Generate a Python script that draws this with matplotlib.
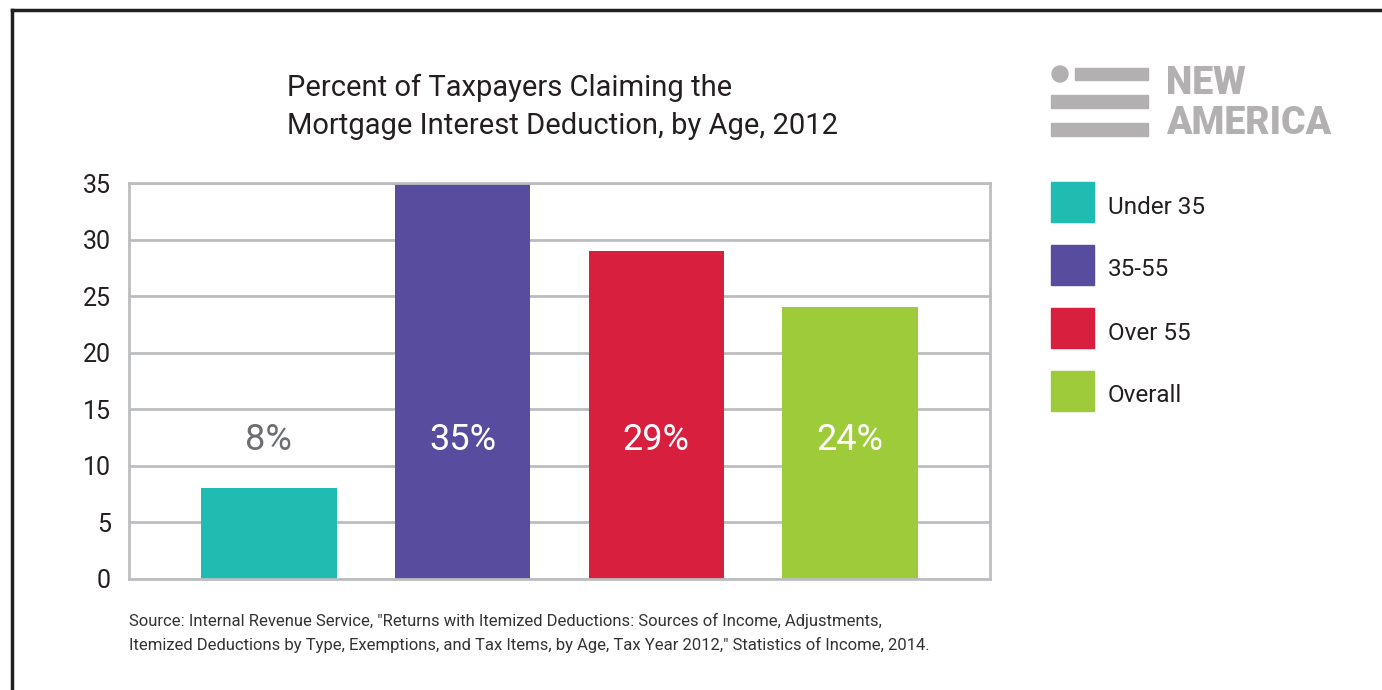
import matplotlib.pyplot as plt
from matplotlib.patches import Rectangle, Ellipse
from matplotlib.lines import Line2D

W, H = 1382, 690

categories = ["Under 35", "35-55", "Over 55", "Overall"]
values = [8, 35, 29, 24]
labels = ["8%", "35%", "29%", "24%"]
colors = ["#21BCB1", "#574C9E", "#D81F3E", "#9ECB3A"]
label_colors = ["#6D6E71", "white", "white", "white"]
yticks = [0, 5, 10, 15, 20, 25, 30, 35]

title = "Percent of Taxpayers Claiming the\nMortgage Interest Deduction, by Age, 2012"
source = ('Source: Internal Revenue Service, "Returns with Itemized Deductions: Sources of Income, Adjustments,\n'
          'Itemized Deductions by Type, Exemptions, and Tax Items, by Age, Tax Year 2012," Statistics of Income, 2014.')

GRID = "#BCBDC0"
TEXT = "#231F20"
LOGO = "#B3B0B1"


def px(x, y):
    return x / W, 1 - y / H


plt.rcParams["font.family"] = ["Roboto", "DejaVu Sans"]
fig = plt.figure(figsize=(W / 100, H / 100), dpi=100)

l, b = px(129, 579)
r, t = px(990, 183)
ax = fig.add_axes([l, b, r - l, t - b])

x = range(len(values))
ax.bar(x, values, width=0.70, color=colors, zorder=2)
for i, (v, lab) in enumerate(zip(values, labels)):
    ax.text(i, 12.3, lab, ha="center", va="center", fontsize=26,
            color=label_colors[i], zorder=3)

ax.set_xlim(-0.722, 3.722)
ax.set_ylim(0, 35)
ax.set_yticks(yticks)
ax.set_yticklabels([str(v) for v in yticks], fontsize=18, color=TEXT)
ax.set_xticks([])
ax.tick_params(axis="y", length=0, pad=13)
ax.grid(axis="y", color=GRID, linewidth=2, zorder=1)
for side in ["left", "right", "bottom", "top"]:
    ax.spines[side].set_color(GRID)
    ax.spines[side].set_linewidth(2)

# title
fig.text(*px(287, 107), title, fontsize=21, color=TEXT, ha="left", va="center",
         linespacing=1.45)

# source note
fig.text(*px(129, 633), source, fontsize=12, color="#333333", ha="left", va="center",
         linespacing=1.55)

# legend
for i, (cat, col) in enumerate(zip(categories, colors)):
    cy = 202 + i * 63
    x0, y0 = px(1051, cy + 20)
    fig.add_artist(Rectangle((x0, y0), 43 / W, 40 / H, color=col, transform=fig.transFigure))
    fig.text(*px(1108, cy + 5), cat, fontsize=17.5, color=TEXT, ha="left", va="center")

# logo
fig.add_artist(Ellipse(px(1060, 74), 16 / W, 16 / H, color=LOGO, transform=fig.transFigure))
for (x1, y1, x2, y2) in [(1075, 68, 1148, 80), (1051, 95, 1148, 108), (1051, 123, 1148, 136)]:
    x0, y0 = px(x1, y2)
    fig.add_artist(Rectangle((x0, y0), (x2 - x1) / W, (y2 - y1) / H, color=LOGO,
                             transform=fig.transFigure))
fig.text(*px(1166, 83), "NEW", fontsize=27, fontweight="heavy", color=LOGO, ha="left", va="center")
fig.text(*px(1166, 124), "AMERICA", fontsize=27, fontweight="heavy", color=LOGO, ha="left", va="center")

# frame
fig.add_artist(Line2D([12 / W, 12 / W], [0, 1 - 10 / H], color="#231F20", linewidth=2.5,
                      transform=fig.transFigure))
fig.add_artist(Line2D([12 / W, 1], [1 - 10 / H, 1 - 10 / H], color="#231F20", linewidth=2.5,
                      transform=fig.transFigure))

fig.savefig("out.png", dpi=100)
